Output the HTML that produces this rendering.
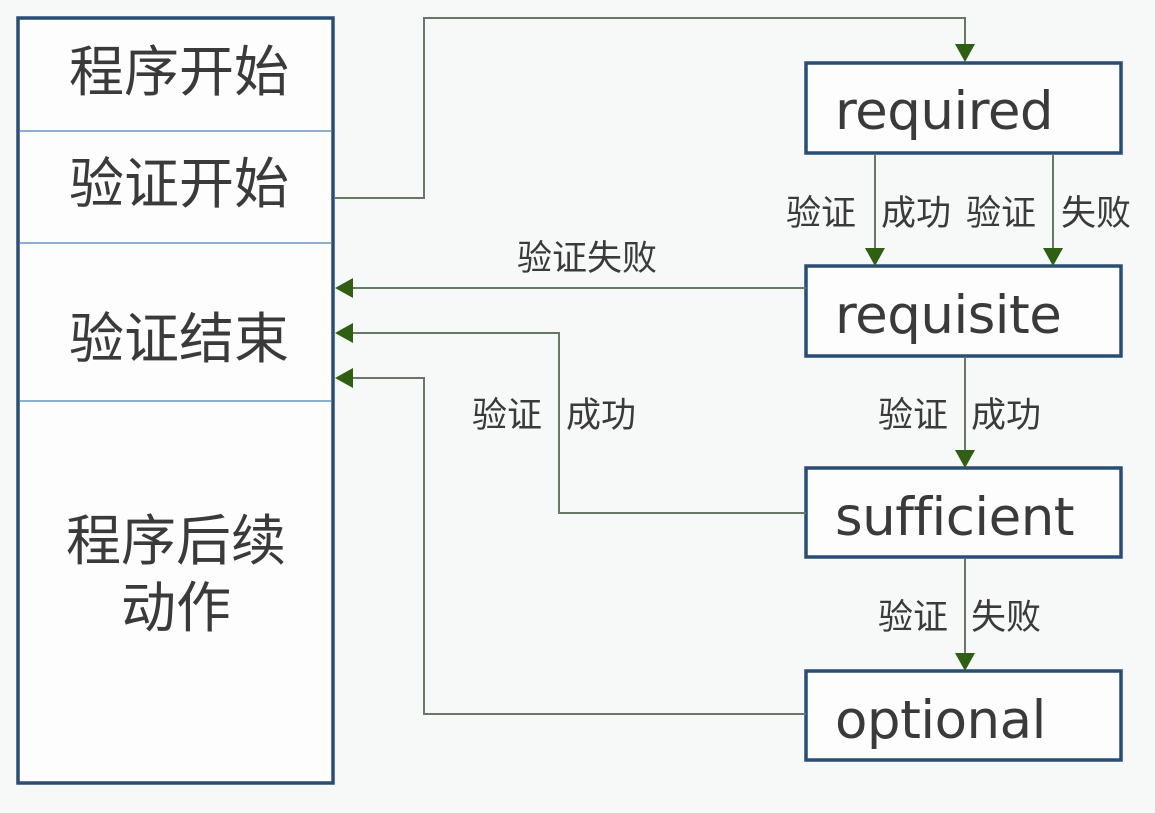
<!DOCTYPE html>
<html><head><meta charset="utf-8"><style>
body{margin:0;background:#f7f8f8;}
svg{display:block}
.cj{font-family:"Liberation Sans","Noto Sans CJK SC",sans-serif;fill:#3a3a3a}
</style></head><body>
<svg width="1155" height="813" xmlns="http://www.w3.org/2000/svg">
<g fill="#fdfdfd" stroke="#2a4d74" stroke-width="3.5">
<rect x="18" y="18" width="315" height="765"/>
<rect x="806" y="63" width="315" height="90"/>
<rect x="806" y="266" width="315" height="90"/>
<rect x="806" y="468" width="315" height="89"/>
<rect x="806" y="671" width="315" height="89"/>
</g>
<g stroke="#8bb0cf" stroke-width="2"><line x1="20" y1="131" x2="331" y2="131"/><line x1="20" y1="243" x2="331" y2="243"/><line x1="20" y1="401" x2="331" y2="401"/></g>
<g fill="none" stroke="#6b7766" stroke-width="2">
<polyline points="335,198 424,198 424,18 965,18 965,50"/>
<line x1="875" y1="154" x2="875" y2="254"/>
<line x1="1053" y1="154" x2="1053" y2="254"/>
<line x1="806" y1="288" x2="348" y2="288"/>
<line x1="965" y1="357" x2="965" y2="456"/>
<polyline points="806,513 559,513 559,333 348,333"/>
<line x1="965" y1="558" x2="965" y2="659"/>
<polyline points="806,714 424,714 424,378 348,378"/>
</g>
<g fill="#2f5f12">
<path d="M955,44 L975,44 L965,62Z"/>
<path d="M865,248 L885,248 L875,266Z"/>
<path d="M1043,248 L1063,248 L1053,266Z"/>
<path d="M955,450 L975,450 L965,468Z"/>
<path d="M955,653 L975,653 L965,671Z"/>
<path d="M353,278 L353,298 L335,288Z"/>
<path d="M353,323 L353,343 L335,333Z"/>
<path d="M353,368 L353,388 L335,378Z"/>
</g>
<g class="cj" font-size="55" text-anchor="middle">
<text x="179" y="91">程序开始</text>
<text x="179" y="203">验证开始</text>
<text x="179" y="358">验证结束</text>
<text x="176" y="560">程序后续</text>
<text x="176" y="627">动作</text>
</g>
<g class="cj" font-size="53" style="font-family:'DejaVu Sans','Liberation Sans',sans-serif" letter-spacing="-0.5">
<text x="835" y="129">required</text>
<text x="835" y="333">requisite</text>
<text x="835" y="535">sufficient</text>
<text x="835" y="738">optional</text>
</g>
<g class="cj" font-size="35">
<text x="786" y="225">验证</text><text x="881" y="225">成功</text>
<text x="966" y="225">验证</text><text x="1061" y="225">失败</text>
<text x="517" y="270">验证失败</text>
<text x="472" y="427">验证</text><text x="566" y="427">成功</text>
<text x="878" y="427">验证</text><text x="971" y="427">成功</text>
<text x="878" y="629">验证</text><text x="971" y="629">失败</text>
</g>
</svg>
</body></html>
